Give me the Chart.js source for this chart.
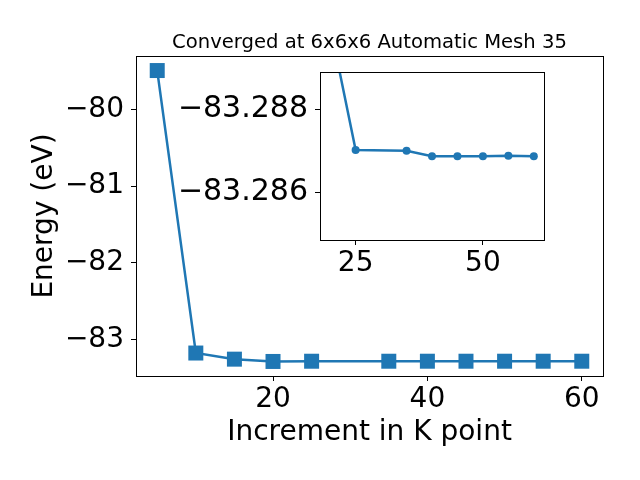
<!DOCTYPE html>
<html>
<head>
<meta charset="utf-8">
<script src="https://cdn.jsdelivr.net/npm/chart.js@4/dist/chart.umd.min.js"></script>
<style>
  html, body { margin: 0; padding: 0; background: #fff; }
  #wrap { position: relative; width: 640px; height: 480px; }
  #wrap canvas { position: absolute; left: 0; top: 0; }
</style>
</head>
<body>
<div id="wrap">
  <canvas id="mainChart" width="640" height="480"></canvas>
  <canvas id="insetChart" width="640" height="480"></canvas>
</div>
<script>
// data
const kpoints = [5, 10, 15, 20, 25, 35, 40, 45, 50, 55, 60];
const energy = [-79.49, -83.18, -83.26, -83.2900, -83.28702, -83.28700, -83.28687, -83.28687, -83.28687, -83.28688, -83.28687];
const mainXTicks = [20, 40, 60];
const mainYTicks = [-80, -81, -82, -83];
const insetXTicks = [25, 50];
const insetYTicks = [-83.288, -83.286];
const title = 'Converged at 6x6x6 Automatic Mesh 35';

const blue = '#1f77b4';
Chart.defaults.color = '#000';
Chart.defaults.font.family = '"DejaVu Sans", sans-serif';

const minus = s => s.replace('-', '\u2212');

// frame round the plot area, plus optional white fill and title
const frame = {
  id: 'frame',
  beforeDatasetsDraw(chart, args, opts) {
    if (opts.fill) {
      const a = chart.chartArea;
      chart.ctx.save();
      chart.ctx.fillStyle = '#fff';
      chart.ctx.fillRect(a.left, a.top, a.right - a.left, a.bottom - a.top);
      chart.ctx.restore();
    }
  },
  afterDraw(chart, args, opts) {
    const a = chart.chartArea;
    const ctx = chart.ctx;
    ctx.save();
    ctx.strokeStyle = '#000';
    ctx.lineWidth = 1;
    ctx.strokeRect(Math.round(a.left) + 0.5, Math.round(a.top) + 0.5,
      Math.round(a.right - a.left), Math.round(a.bottom - a.top));
    if (opts.title) {
      ctx.fillStyle = '#000';
      ctx.font = '19.6px "DejaVu Sans"';
      ctx.textAlign = 'center';
      ctx.textBaseline = 'alphabetic';
      ctx.fillText(opts.title, (a.left + a.right) / 2, 48);
    }
    ctx.restore();
  }
};

function axisGrid() {
  return { display: true, drawOnChartArea: false, drawTicks: true, tickLength: 5, color: '#000' };
}

// main chart
new Chart(document.getElementById('mainChart'), {
  type: 'line',
  data: {
    datasets: [{
      data: kpoints.map((k, i) => ({ x: k, y: energy[i] })),
      borderColor: blue,
      backgroundColor: blue,
      borderWidth: 2.5,
      pointStyle: 'rect',
      pointRadius: 10.6,
      pointBorderWidth: 0,
      tension: 0
    }]
  },
  options: {
    responsive: false,
    animation: false,
    layout: { padding: { left: 0, right: 37, top: 56, bottom: 0 } },
    plugins: { legend: { display: false }, tooltip: { enabled: false }, frame: { title: title } },
    scales: {
      x: {
        type: 'linear',
        min: 2.25,
        max: 62.75,
        afterBuildTicks: s => { s.ticks = mainXTicks.map(v => ({ value: v })); },
        afterFit: s => { s.height = 104; },
        grid: axisGrid(),
        border: { display: true, color: '#000', width: 1 },
        ticks: { font: { size: 28 }, padding: 2, maxRotation: 0, callback: v => minus(String(v)) },
        title: { display: true, text: 'Increment in K point', font: { size: 28 }, padding: { top: 0, bottom: 30 } }
      },
      y: {
        min: -83.48,
        max: -79.30,
        afterBuildTicks: s => { s.ticks = mainYTicks.map(v => ({ value: v })); },
        afterFit: s => { s.width = 136; },
        grid: axisGrid(),
        border: { display: true, color: '#000', width: 1 },
        ticks: { font: { size: 28 }, padding: 7, callback: v => minus(String(v)) },
        title: { display: true, text: 'Energy (eV)', font: { size: 28 }, padding: { top: 28, bottom: 0 } }
      }
    }
  },
  plugins: [frame]
});

// inset chart
const insetK = kpoints.slice(3);
const insetE = energy.slice(3);
new Chart(document.getElementById('insetChart'), {
  type: 'line',
  data: {
    datasets: [{
      data: insetK.map((k, i) => ({ x: k, y: insetE[i] })),
      borderColor: blue,
      backgroundColor: blue,
      borderWidth: 2.5,
      pointStyle: 'circle',
      pointRadius: 4,
      pointBorderWidth: 0,
      tension: 0
    }]
  },
  options: {
    responsive: false,
    animation: false,
    layout: { padding: { left: 0, right: 96, top: 72, bottom: 0 } },
    plugins: { legend: { display: false }, tooltip: { enabled: false }, frame: { fill: true } },
    scales: {
      x: {
        type: 'linear',
        min: 18,
        max: 62,
        afterBuildTicks: s => { s.ticks = insetXTicks.map(v => ({ value: v })); },
        afterFit: s => { s.height = 240; },
        grid: axisGrid(),
        border: { display: true, color: '#000', width: 1 },
        ticks: { font: { size: 28 }, padding: 2, maxRotation: 0 }
      },
      y: {
        reverse: true,
        min: -83.28889,
        max: -83.28486,
        afterBuildTicks: s => { s.ticks = insetYTicks.map(v => ({ value: v })); },
        afterFit: s => { s.width = 320; },
        grid: axisGrid(),
        border: { display: true, color: '#000', width: 1 },
        ticks: { font: { size: 30 }, padding: 7, callback: v => minus(v.toFixed(3)) }
      }
    }
  },
  plugins: [frame]
});
</script>
</body>
</html>
